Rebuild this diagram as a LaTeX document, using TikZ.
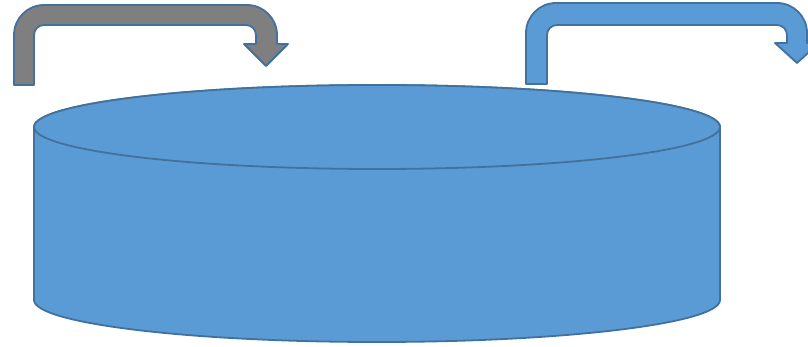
\documentclass[tikz,border=0pt]{standalone}
\definecolor{tankblue}{HTML}{5B9BD5}
\definecolor{edgeblue}{HTML}{41719C}
\definecolor{flowgray}{HTML}{7F7F7F}

\begin{document}
\begin{tikzpicture}[x=1pt, y=1pt, outline/.style={draw=edgeblue, line width=1.8pt, line join=round}]
  \useasboundingbox (0,0) rectangle (808,346);
  \clip (0,0) rectangle (808,346);

  % Left bent arrow (gray): up, across, down into the tank
  \filldraw[outline, fill=flowgray]
    (14,261) -- (14,311) arc[start angle=180, end angle=90, radius=30]
    -- (247,341) arc[start angle=90, end angle=0, radius=30]
    -- (277,302) -- (288,302) -- (266,280) -- (244,302) -- (256,302)
    -- (256,311) arc[start angle=0, end angle=90, radius=10]
    -- (44,321) arc[start angle=90, end angle=180, radius=10]
    -- (34,261) -- cycle;

  % Right bent arrow (blue): out of the tank, off to the right
  \filldraw[outline, fill=tankblue]
    (526,262) -- (526,313) arc[start angle=180, end angle=90, radius=30]
    -- (777,343) arc[start angle=90, end angle=0, radius=30]
    -- (807,303) -- (819,303) -- (797,283) -- (775,303) -- (787,303)
    -- (787,311) arc[start angle=0, end angle=90, radius=10]
    -- (557,321) arc[start angle=90, end angle=180, radius=10]
    -- (547,262) -- cycle;

  % Tank body
  \filldraw[outline, fill=tankblue]
    (34,219) -- (34,46) arc[start angle=180, end angle=360, x radius=343, y radius=42]
    -- (720,219) arc[start angle=0, end angle=180, x radius=343, y radius=42]
    -- cycle;
  % Tank lid
  \filldraw[outline, fill=tankblue] (377,219) ellipse[x radius=343, y radius=42];
\end{tikzpicture}
\end{document}
